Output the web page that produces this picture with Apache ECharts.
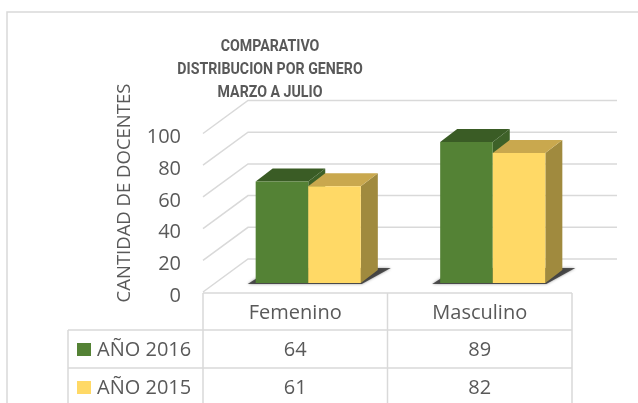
<!DOCTYPE html>
<html>
<head>
<meta charset="utf-8">
<script src="https://cdn.jsdelivr.net/npm/echarts@6/dist/echarts.min.js"></script>
<style>
html,body{margin:0;padding:0;background:#fff;}
#main{width:638px;height:403px;}
</style>
</head>
<body>
<div id="main"></div>
<script>
var categorias = ['Femenino', 'Masculino'];
var nombres = ['AÑO 2016', 'AÑO 2015'];
var valores2016 = [64, 89];
var valores2015 = [61, 82];
var ticksY = [0, 20, 40, 60, 80, 100];
var titulo = ['COMPARATIVO', 'DISTRIBUCION POR GENERO', 'MARZO A JULIO'];
var tituloEje = 'CANTIDAD DE DOCENTES';

var series = [valores2016, valores2015];
// colores: frente, tapa, lado
var colores = [
  ['#548235', '#3a5c25', '#3e6128'],
  ['#ffd966', '#c9a84e', '#a08a3e']
];
var GRIS = '#595959';
var LINEA = '#d9d9d9';
var FUENTE = '"Open Sans", "Noto Sans", sans-serif';
var FRENTE = [-13, 9];   // plano de barras -> borde frontal
var FONDO = [32, -24];   // plano de barras -> pared del fondo
var PROF = [17, -13];    // profundidad de cada barra
var BAJA = 4;            // las etiquetas del eje van un poco por debajo del borde

var myChart = echarts.init(document.getElementById('main'));

function renderRejilla(params, api) {
  var cs = params.coordSys;
  var y = api.coord([0, api.value(1)])[1];
  var l = cs.x, r = cs.x + cs.width;
  return {
    type: 'polyline',
    shape: {points: [[l + FRENTE[0], y + FRENTE[1]], [l + FONDO[0], y + FONDO[1]], [r + FONDO[0], y + FONDO[1]]]},
    style: {stroke: LINEA, lineWidth: 1.5, fill: null}
  };
}

function anchoBarra(api) {
  return api.size([1, 0])[0] * 0.285;
}

function renderSombra(params, api) {
  var c = api.coord([api.value(0), 0]);
  var w = anchoBarra(api);
  var xl = c[0] - w, xr = c[0] + w, by = c[1];
  return {
    type: 'polygon',
    shape: {points: [[xl - 8, by + 1], [xr + 1, by + 1], [xr + PROF[0] + 13, by + PROF[1] - 2], [xl + PROF[0], by + PROF[1] - 2]]},
    style: {fill: 'rgba(45,45,45,0.8)', shadowBlur: 3, shadowColor: 'rgba(0,0,0,0.5)'}
  };
}

function cajaRender(idx) {
  return function (params, api) {
    var base = api.coord([api.value(0), 0]);
    var tope = api.coord([api.value(0), api.value(1)]);
    var w = anchoBarra(api);
    var x0 = base[0] - w + idx * w;
    var x1 = x0 + w, ty = tope[1], by = base[1];
    var col = colores[idx];
    return {
      type: 'group',
      children: [
        {type: 'polygon', shape: {points: [[x1, ty], [x1 + PROF[0], ty + PROF[1]], [x1 + PROF[0], by + PROF[1]], [x1, by]]}, style: {fill: col[2]}},
        {type: 'polygon', shape: {points: [[x0, ty], [x0 + PROF[0], ty + PROF[1]], [x1 + PROF[0], ty + PROF[1]], [x1, ty]]}, style: {fill: col[1]}},
        {type: 'rect', shape: {x: x0, y: ty, width: w, height: by - ty}, style: {fill: col[0]}}
      ]
    };
  };
}

// tabla de datos bajo el gráfico
var FILA = 38;
function renderTablaLineas(params, api) {
  var cs = params.coordSys;
  var l = cs.x, r = cs.x + cs.width, m = (l + r) / 2;
  var y0 = cs.y + cs.height + 1 - BAJA;
  var lx = 68;
  var st = {stroke: LINEA, lineWidth: 1.5, fill: null};
  var hijos = [
    {type: 'line', shape: {x1: l, y1: y0, x2: r, y2: y0}, style: st},
    {type: 'line', shape: {x1: l, y1: y0, x2: l, y2: 410}, style: st},
    {type: 'line', shape: {x1: m, y1: y0, x2: m, y2: 410}, style: st},
    {type: 'line', shape: {x1: r, y1: y0, x2: r, y2: 410}, style: st},
    {type: 'line', shape: {x1: lx, y1: y0 + FILA - 1, x2: lx, y2: 410}, style: st}
  ];
  for (var i = 0; i < nombres.length; i++) {
    var yt = y0 + FILA - 1 + i * FILA;
    hijos.push({type: 'line', shape: {x1: lx, y1: yt, x2: r, y2: yt}, style: st});
    var yc = yt + FILA / 2 + 1;
    hijos.push({type: 'rect', shape: {x: 77, y: yc - 7, width: 14, height: 13}, style: {fill: colores[i][0]}});
    hijos.push({type: 'text', x: 97, y: yc, style: {text: nombres[i], fill: GRIS, font: '20px ' + FUENTE, align: 'left', verticalAlign: 'middle'}});
  }
  return {type: 'group', children: hijos};
}

function renderTablaTextos(params, api) {
  var cs = params.coordSys;
  var j = api.value(0), fila = api.value(1);
  var x = api.coord([j, 0])[0];
  var y0 = cs.y + cs.height + 1 - BAJA;
  var y = y0 + FILA / 2 + 1 + (fila + 1) * FILA - (fila >= 0 ? 1 : 0);
  var txt = fila < 0 ? categorias[j] : String(series[fila][j]);
  return {type: 'text', x: x, y: y, style: {text: txt, fill: GRIS, font: '20px ' + FUENTE, align: 'center', verticalAlign: 'middle'}};
}

var datosTabla = [];
for (var j = 0; j < categorias.length; j++) {
  datosTabla.push([j, -1]);
  for (var i = 0; i < series.length; i++) datosTabla.push([j, i]);
}

var option = {
  backgroundColor: '#fff',
  animation: false,
  grid: [
    {left: 216, right: 53, top: 124.5, bottom: 120},                 // plano de barras
    {left: 203, right: 66, top: 133.5 + BAJA, bottom: 111 - BAJA}    // borde frontal (etiquetas)
  ],
  xAxis: [
    {gridIndex: 0, type: 'category', data: categorias, show: false},
    {gridIndex: 1, type: 'category', data: categorias, show: false}
  ],
  yAxis: [
    {gridIndex: 0, type: 'value', min: 0, max: 100, interval: 20, show: false},
    {gridIndex: 1, type: 'value', min: 0, max: 100, interval: 20,
      axisLine: {show: false}, axisTick: {show: false}, splitLine: {show: false},
      axisLabel: {margin: 22, color: GRIS, fontSize: 20, fontFamily: FUENTE}}
  ],
  graphic: [
    {type: 'rect', shape: {x: 7, y: 12, width: 700, height: 500}, style: {fill: null, stroke: LINEA, lineWidth: 1.5}, silent: true},
    {type: 'text', x: 270, y: 35, scaleX: 0.86, style: {text: titulo.join('\n'), fill: GRIS, font: 'bold 16.5px Roboto, sans-serif', align: 'center', lineHeight: 23}},
    {type: 'text', x: 125, y: 193, rotation: Math.PI / 2, style: {text: tituloEje, fill: GRIS, font: '18.5px ' + FUENTE, align: 'center', verticalAlign: 'middle'}}
  ],
  series: [
    {type: 'custom', name: 'rejilla', xAxisIndex: 0, yAxisIndex: 0, renderItem: renderRejilla,
      data: ticksY.map(function (v) { return [0, v]; }), silent: true, z: 1},
    {type: 'custom', name: 'sombra', xAxisIndex: 0, yAxisIndex: 0, renderItem: renderSombra,
      data: categorias.map(function (c, k) { return [k, 0]; }), silent: true, z: 2},
    {type: 'custom', name: nombres[0], xAxisIndex: 0, yAxisIndex: 0, renderItem: cajaRender(0),
      data: valores2016.map(function (v, k) { return [k, v]; }), z: 3},
    {type: 'custom', name: nombres[1], xAxisIndex: 0, yAxisIndex: 0, renderItem: cajaRender(1),
      data: valores2015.map(function (v, k) { return [k, v]; }), z: 4},
    {type: 'custom', name: 'tablaLineas', xAxisIndex: 1, yAxisIndex: 1, renderItem: renderTablaLineas,
      data: [[0, 0]], silent: true, z: 5},
    {type: 'custom', name: 'tablaTextos', xAxisIndex: 1, yAxisIndex: 1, renderItem: renderTablaTextos,
      data: datosTabla, silent: true, z: 6}
  ]
};

myChart.setOption(option);
</script>
</body>
</html>
